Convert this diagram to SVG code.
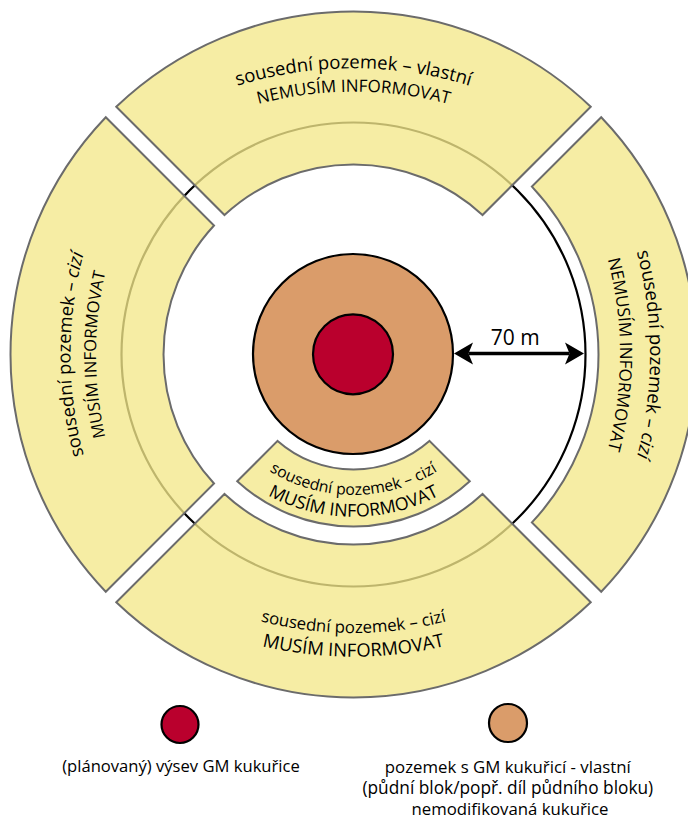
<svg xmlns="http://www.w3.org/2000/svg" width="688" height="820" viewBox="0 0 688 820">
<defs>
<style>
.sector{fill:#f3e88a;fill-opacity:0.78;stroke:#6b6b6b;stroke-width:2;stroke-linejoin:miter}
.lbl{font-family:"Open Sans","Liberation Sans",sans-serif;fill:#000}
.it{font-style:italic}
.ring{fill:none;stroke:#000;stroke-width:2.2}
.red{fill:#ba002d;stroke:#000;stroke-width:2.2}
.orange{fill:#da9c6a;stroke:#000;stroke-width:2.2}
.dim{stroke:#000;stroke-width:3.5;fill:none}
</style>
<marker id="ah" markerUnits="userSpaceOnUse" markerWidth="22" markerHeight="24" viewBox="0 -12 22 24" refX="4.5" refY="0" orient="auto-start-reverse">
<path d="M0,-11 L19,0 L0,11 L4.5,0 Z" fill="#000"/>
</marker>
<path id="tp-top1" d="M155.9 121.25 A395.2 395.2 0 0 1 551.1 121.25"/>
<path id="tp-top2" d="M167.6 141.5 A371.8 371.8 0 0 1 539.4 141.5"/>
<path id="tp-left1" d="M123 550.5 A392 392 0 0 1 123 158.5"/>
<path id="tp-left2" d="M145.1 537.75 A366.5 366.5 0 0 1 145.1 171.25"/>
<path id="tp-right1" d="M596.2 152.6 A405.8 405.8 0 0 1 596.2 556.4"/>
<path id="tp-right2" d="M569.7 166.75 A375.5 375.5 0 0 1 569.7 542.25"/>
<path id="tp-bot1" d="M166.5 582.9 A374 374 0 0 0 540.5 582.9"/>
<path id="tp-bot2" d="M154.65 603.4 A397.7 397.7 0 0 0 552.35 603.4"/>
<path id="tp-in1" d="M240.4 448.1 A160 160 0 0 0 466.6 448.1"/>
<path id="tp-in2" d="M225 463.5 A181.7 181.7 0 0 0 482 463.5"/>
</defs>

<g id="radius-70m">
<circle class="ring" cx="353.5" cy="354.5" r="232"/>
</g>

<g id="sector-top">
<path class="sector" d="M116.27 106.77 A343 343 0 0 1 590.73 106.77 L482.49 215.01 A190 190 0 0 0 224.51 215.01 Z"/>
<text class="lbl" font-size="18.5"><textPath href="#tp-top1" startOffset="50%" text-anchor="middle">sousední pozemek – vlastní</textPath></text>
<text class="lbl" font-size="17"><textPath href="#tp-top2" startOffset="50%" text-anchor="middle">NEMUSÍM INFORMOVAT</textPath></text>
</g>

<g id="sector-left">
<path class="sector" d="M105.77 591.73 A343 343 0 0 1 105.77 117.27 L214.01 225.51 A190 190 0 0 0 214.01 483.49 Z"/>
<text class="lbl" font-size="18.3"><textPath href="#tp-left1" startOffset="50%" text-anchor="middle">sousední pozemek – <tspan class="it">cizí</tspan></textPath></text>
<text class="lbl" font-size="16.6"><textPath href="#tp-left2" startOffset="50%" text-anchor="middle">MUSÍM INFORMOVAT</textPath></text>
</g>

<g id="sector-right">
<path class="sector" d="M601.23 117.27 A343 343 0 0 1 601.23 591.73 L531.91 522.41 A245 245 0 0 0 531.91 186.59 Z"/>
<text class="lbl" font-size="18.6"><textPath href="#tp-right1" startOffset="50%" text-anchor="middle">sousední pozemek – <tspan class="it">cizí</tspan></textPath></text>
<text class="lbl" font-size="17"><textPath href="#tp-right2" startOffset="50%" text-anchor="middle">NEMUSÍM INFORMOVAT</textPath></text>
</g>

<g id="sector-bottom">
<path class="sector" d="M590.73 602.23 A343 343 0 0 1 116.27 602.23 L224.51 493.99 A190 190 0 0 0 482.49 493.99 Z"/>
<text class="lbl" font-size="16.8"><textPath href="#tp-bot1" startOffset="50%" text-anchor="middle">sousední pozemek – cizí</textPath></text>
<text class="lbl" font-size="18.4"><textPath href="#tp-bot2" startOffset="50%" text-anchor="middle">MUSÍM INFORMOVAT</textPath></text>
</g>

<g id="sector-inner">
<path class="sector" d="M469.76 481.26 A172 172 0 0 1 237.24 481.26 L277.6 440.9 A115 115 0 0 0 429.4 440.9 Z"/>
<text class="lbl" font-size="15.8"><textPath href="#tp-in1" startOffset="50%" text-anchor="middle">sousední pozemek – cizí</textPath></text>
<text class="lbl" font-size="17.8"><textPath href="#tp-in2" startOffset="50%" text-anchor="middle">MUSÍM INFORMOVAT</textPath></text>
</g>

<g id="field">
<circle class="orange" cx="353" cy="354" r="100"/>
</g>

<g id="sowing">
<circle class="red" cx="353" cy="354.3" r="40"/>
</g>

<g id="connectors">
<line class="dim" x1="468.5" y1="353.5" x2="569.5" y2="353.5" marker-start="url(#ah)" marker-end="url(#ah)"/>
<text class="lbl" x="515.3" y="345" font-size="21" text-anchor="middle">70 m</text>
</g>

<g id="legend-sowing">
<circle class="red" cx="180" cy="724.5" r="18.5"/>
<text class="lbl" x="181" y="772" font-size="16.6" text-anchor="middle">(plánovaný) výsev GM kukuřice</text>
</g>

<g id="legend-field">
<circle class="orange" cx="508" cy="723" r="19"/>
<text class="lbl" font-size="16.8" text-anchor="middle">
<tspan x="510" y="773">pozemek s GM kukuřicí - vlastní</tspan>
<tspan x="510" y="794" font-size="17.3">(půdní blok/popř. díl půdního bloku)</tspan>
<tspan x="510" y="815">nemodifikovaná kukuřice</tspan>
</text>
</g>
</svg>
